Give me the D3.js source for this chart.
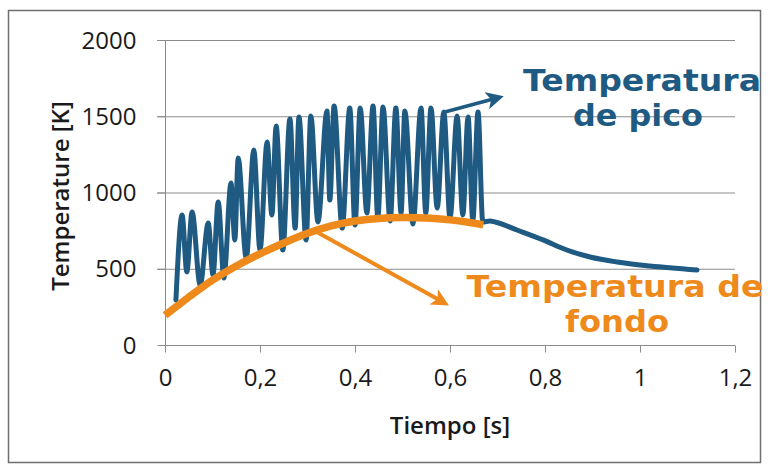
<!DOCTYPE html>
<html><head><meta charset="utf-8">
<script src="https://cdn.jsdelivr.net/npm/d3@7"></script>
<style>
html,body{margin:0;padding:0;background:#fff;}
svg{display:block;}
</style></head>
<body>
<svg id="c" width="768" height="468"></svg>
<script>
// ---- data ----
const peakTime = [0.023,0.036,0.046,0.057,0.074,0.091,0.101,0.112,0.124,0.139,0.147,0.154,0.171,0.187,0.200,0.215,0.225,0.234,0.248,0.263,0.274,0.282,0.297,0.307,0.322,0.341,0.347,0.356,0.373,0.389,0.400,0.411,0.425,0.438,0.448,0.459,0.474,0.486,0.497,0.505,0.522,0.539,0.549,0.560,0.573,0.587,0.600,0.615,0.627,0.638,0.648,0.659,0.669,0.684,0.695,0.741,0.796,0.846,0.895,0.952,1.021,1.120];
const peakTemp = [295,852,479,872,393,800,459,938,439,1062,689,1226,570,1279,623,1331,852,1436,623,1482,767,1495,689,1502,807,1534,951,1567,767,1554,787,1554,866,1567,833,1561,813,1554,866,1534,793,1554,866,1554,898,1528,833,1502,852,1495,820,1528,807,813,807,754,689,623,577,544,518,492];
const bgTime = [0,0.05,0.1,0.15,0.2,0.25,0.3,0.35,0.4,0.45,0.5,0.55,0.6,0.65,0.67];
const bgTemp = [195,315,430,520,600,670,735,785,815,832,837,835,822,800,788];
const xTicks = [0,0.2,0.4,0.6,0.8,1,1.2];
const yTicks = [0,500,1000,1500,2000];
// annotation arrows in data units [t0,T0,t1,T1]
const peakArrow = [0.589,1528,0.699,1620];
const bgArrow = [0.312,754,0.585,282];
const peakLabel = ["Temperatura","de pico"];
const bgLabel = ["Temperatura de","fondo"];

const BLUE = "#1F5A82", ORANGE = "#EE8A1C", GRID = "#8c8c8c";
const FONT = "'Open Sans', sans-serif";
const svg = d3.select("#c");
// frame
svg.append("rect").attr("x",8.5).attr("y",10.5).attr("width",752).attr("height",452)
  .attr("fill","#fff").attr("stroke","#6e6e6e").attr("stroke-width",1.5);

const x = d3.scaleLinear().domain([0,1.2]).range([165,735]);
const y = d3.scaleLinear().domain([0,2000]).range([345,40]);

// gridlines
svg.append("g").selectAll("line").data(yTicks.filter(d=>d>0)).join("line")
  .attr("x1",157).attr("x2",735).attr("y1",d=>y(d)+0.5).attr("y2",d=>y(d)+0.5)
  .attr("stroke",GRID).attr("stroke-width",1);

// y axis
const ya = svg.append("g").attr("transform",`translate(${x(0)+0.5},0)`)
  .call(d3.axisLeft(y).tickValues(yTicks).tickSize(8).tickPadding(21).tickFormat(d=>d));
ya.select(".domain").attr("stroke",GRID).attr("d",`M0,${y(2000)}V${y(0)}`);
ya.selectAll(".tick line").attr("stroke",GRID);
ya.selectAll("text").attr("font-family",FONT).attr("font-size",24).attr("fill","#1a1a1a").attr("dy","0.34em");

// x axis
const fmt = d=> String(d).replace(".",",");
const xa = svg.append("g").attr("transform",`translate(0,${y(0)+0.5})`)
  .call(d3.axisBottom(x).tickValues(xTicks).tickSize(7).tickPadding(16).tickFormat(fmt));
xa.select(".domain").attr("stroke",GRID).attr("d",`M${x(0)},0H${x(1.2)}`);
xa.selectAll(".tick line").attr("stroke",GRID);
xa.selectAll("text").attr("font-family",FONT).attr("font-size",24).attr("fill","#1a1a1a");

// axis titles
svg.append("text").attr("x",450).attr("y",434).attr("text-anchor","middle").attr("font-family",FONT)
  .attr("font-size",24).attr("font-weight",600).attr("fill","#1a1a1a").text("Tiempo [s]");
svg.append("text").attr("transform","translate(69,196) rotate(-90)").attr("text-anchor","middle").attr("font-family",FONT)
  .attr("font-size",24).attr("font-weight",600).attr("fill","#1a1a1a").text("Temperature [K]");

// blue peak temperature line
const peakData = peakTime.map((t,i)=>[t,peakTemp[i]]);
const line = d3.line().x(d=>x(d[0])).y(d=>y(d[1])).curve(d3.curveMonotoneX);
svg.append("path").attr("d",line(peakData)).attr("fill","none").attr("stroke",BLUE)
  .attr("stroke-width",5).attr("stroke-linejoin","round").attr("stroke-linecap","round");

// orange background line
const bgData = bgTime.map((t,i)=>[t,bgTemp[i]]);
const line2 = d3.line().x(d=>x(d[0])).y(d=>y(d[1])).curve(d3.curveBasis);
svg.append("path").attr("d",line2(bgData)).attr("fill","none").attr("stroke",ORANGE)
  .attr("stroke-width",7.5).attr("stroke-linecap","butt");

// arrows
const defs = svg.append("defs");
function marker(id,color,s){
  defs.append("marker").attr("id",id).attr("viewBox","0 0 10 10").attr("refX",6).attr("refY",5)
    .attr("markerWidth",s).attr("markerHeight",s).attr("orient","auto")
    .append("path").attr("d","M0,0L10,5L0,10L2.5,5Z").attr("fill",color);
}
marker("mb",BLUE,5); marker("mo",ORANGE,4.4);
svg.append("line").attr("x1",x(peakArrow[0])).attr("y1",y(peakArrow[1]))
  .attr("x2",x(peakArrow[2])).attr("y2",y(peakArrow[3]))
  .attr("stroke",BLUE).attr("stroke-width",3.5).attr("marker-end","url(#mb)");
svg.append("line").attr("x1",x(bgArrow[0])).attr("y1",y(bgArrow[1]))
  .attr("x2",x(bgArrow[2])).attr("y2",y(bgArrow[3]))
  .attr("stroke",ORANGE).attr("stroke-width",4).attr("marker-end","url(#mo)");

// labels
function label(txt,cx,by,color,w){
  svg.append("text").attr("x",cx).attr("y",by).attr("fill",color)
    .attr("font-family","'DejaVu Sans', sans-serif").attr("font-weight","bold").attr("font-size",29.5)
    .attr("text-anchor","middle").attr("textLength",w).attr("lengthAdjust","spacingAndGlyphs").text(txt);
}
label(peakLabel[0],642,91,BLUE,238);
label(peakLabel[1],638,126,BLUE,130);
label(bgLabel[0],615,297,ORANGE,297);
label(bgLabel[1],617,332,ORANGE,104);
</script>
</body></html>
